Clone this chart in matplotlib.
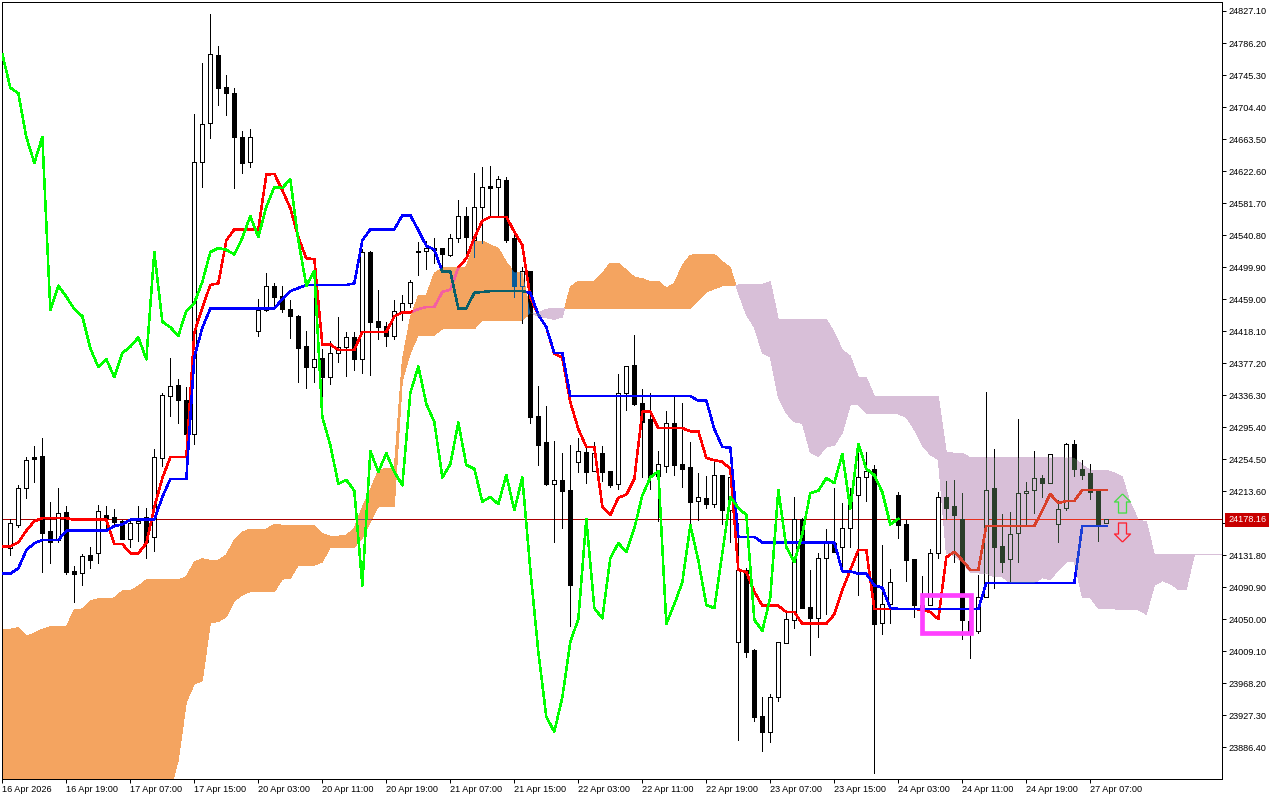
"""
Ichimoku chart on the US30 style H1 candles, MT5 look.
"""

import matplotlib
matplotlib.use('Agg')
import matplotlib.pyplot as plt
import matplotlib.transforms as mtransforms
import numpy as np
from matplotlib.patches import Rectangle
from matplotlib.path import Path

opens = [24142, 24141, 24170, 24217, 24257, 24258, 24163, 24151, 24187, 24111,
         24109, 24132, 24134, 24183, 24180, 24175, 24152, 24173, 24180, 24155,
         24256, 24335, 24349, 24330, 24286, 24634, 24684, 24771, 24730, 24722,
         24666, 24634, 24418, 24445, 24476, 24463, 24446, 24437, 24399, 24372,
         24384, 24359, 24390, 24398, 24410, 24382, 24519, 24431, 24425, 24412,
         24444, 24454, 24520, 24520, 24524, 24524, 24515, 24537, 24565, 24534,
         24577, 24603, 24602, 24611, 24537, 24476, 24495, 24309, 24276, 24223,
         24228, 24215, 24251, 24263, 24239, 24262, 24239, 24223, 24339, 24375,
         24326, 24306, 24233, 24245, 24301, 24248, 24244, 24201, 24205, 24197,
         24234, 24189, 24021, 24113, 24010, 23926, 23906, 23950, 24019, 24049,
         24178, 24065, 24051, 24128, 24147, 24142, 24166, 24208, 24231, 24242,
         24045, 24069, 24208, 24171, 24127, 24068, 24068, 24134, 24206, 24194,
         24178, 24047, 24035, 24078, 24217, 24143, 24127, 24160, 24211, 24215,
         24230, 24224, 24171, 24192, 24274, 24242, 24237, 24214, 24173]
highs = [24145, 24178, 24221, 24257, 24271, 24281, 24200, 24217, 24194, 24118,
         24133, 24142, 24196, 24194, 24191, 24177, 24177, 24194, 24192, 24267,
         24339, 24384, 24357, 24346, 24695, 24761, 24823, 24782, 24745, 24729,
         24674, 24676, 24459, 24492, 24479, 24476, 24458, 24439, 24418, 24479,
         24395, 24405, 24436, 24417, 24417, 24523, 24520, 24471, 24430, 24458,
         24464, 24483, 24532, 24533, 24537, 24524, 24542, 24586, 24577, 24620,
         24628, 24629, 24616, 24615, 24543, 24500, 24495, 24348, 24322, 24278,
         24262, 24272, 24281, 24270, 24276, 24271, 24239, 24363, 24373, 24413,
         24344, 24339, 24265, 24316, 24334, 24326, 24276, 24237, 24233, 24253,
         24234, 24231, 24173, 24115, 24012, 23950, 23954, 24021, 24059, 24206,
         24179, 24113, 24134, 24165, 24217, 24198, 24217, 24262, 24263, 24247,
         24145, 24114, 24212, 24177, 24127, 24105, 24139, 24212, 24226, 24228,
         24211, 24074, 24106, 24340, 24267, 24184, 24187, 24306, 24225, 24265,
         24234, 24261, 24202, 24275, 24279, 24253, 24248, 24215, 24178]
lows = [24110, 24132, 24168, 24205, 24225, 24110, 24122, 24148, 24108, 24072,
        24093, 24115, 24122, 24164, 24171, 24152, 24142, 24150, 24128, 24137,
        24246, 24309, 24301, 24269, 24274, 24602, 24665, 24707, 24694, 24601,
        24620, 24628, 24412, 24444, 24451, 24442, 24409, 24353, 24345, 24353,
        24334, 24350, 24378, 24361, 24368, 24364, 24362, 24408, 24399, 24408,
        24432, 24449, 24490, 24497, 24505, 24496, 24514, 24532, 24516, 24513,
        24531, 24564, 24566, 24532, 24462, 24428, 24300, 24247, 24221, 24148,
        24166, 24041, 24238, 24224, 24239, 24226, 24219, 24216, 24317, 24324,
        24231, 24216, 24175, 24238, 24234, 24219, 24170, 24177, 24192, 24193,
        24171, 24148, 23895, 24001, 23920, 23881, 23893, 23945, 24019, 24039,
        24064, 24004, 24027, 24056, 24136, 24118, 24142, 24081, 24201, 23853,
        24031, 24045, 24154, 24099, 24053, 24049, 24068, 24128, 24178, 24123,
        24024, 24000, 24032, 24078, 24090, 24110, 24096, 24123, 24171, 24185,
        24206, 24224, 24148, 24189, 24233, 24229, 24203, 24150, 24173]
closes = [24142, 24173, 24217, 24253, 24255, 24160, 24148, 24186, 24110, 24108,
          24131, 24125, 24188, 24179, 24174, 24152, 24173, 24175, 24148, 24257,
          24336, 24348, 24330, 24286, 24634, 24683, 24772, 24729, 24722, 24666,
          24633, 24666, 24445, 24476, 24462, 24446, 24437, 24396, 24372, 24382,
          24359, 24390, 24398, 24410, 24382, 24519, 24430, 24423, 24412, 24444,
          24454, 24481, 24519, 24524, 24522, 24516, 24537, 24565, 24538, 24577,
          24602, 24601, 24612, 24534, 24476, 24495, 24308, 24272, 24223, 24228,
          24214, 24093, 24265, 24238, 24262, 24238, 24221, 24339, 24373, 24325,
          24302, 24231, 24248, 24301, 24247, 24242, 24200, 24206, 24197, 24234,
          24189, 24231, 24113, 24008, 23925, 23906, 23950, 24021, 24050, 24178,
          24064, 24051, 24128, 24147, 24136, 24166, 24208, 24231, 24239, 24044,
          24069, 24097, 24170, 24125, 24068, 24064, 24134, 24206, 24192, 24183,
          24049, 24035, 24078, 24215, 24142, 24123, 24159, 24211, 24214, 24230,
          24224, 24261, 24191, 24274, 24242, 24234, 24212, 24171, 24178.16]

tenkan = [24143, 24143, 24148, 24163, 24175, 24179, 24179, 24179, 24179, 24177,
          24177, 24177, 24177, 24177, 24146, 24146, 24134, 24134, 24147, 24193,
          24230, 24257, 24257, 24257, 24416, 24448, 24477, 24479, 24534, 24548,
          24548, 24548, 24548, 24618, 24619, 24598, 24575, 24538, 24511, 24510,
          24401, 24401, 24394, 24394, 24394, 24417, 24417, 24417, 24417, 24437,
          24442, 24442, 24446, 24449, 24449, 24468, 24471, 24499, 24511, 24537,
          24559, 24564, 24564, 24564, 24545, 24528, 24461, 24439, 24423, 24389,
          24384, 24327, 24293, 24270, 24270, 24194, 24183, 24205, 24209, 24229,
          24315, 24315, 24294, 24294, 24294, 24294, 24290, 24290, 24256, 24253,
          24251, 24242, 24113, 24110, 24085, 24067, 24067, 24067, 24059, 24059,
          24044, 24044, 24044, 24044, 24056, 24087, 24113, 24138, 24138, 24063,
          24063, 24063, 24063, 24063, 24063, 24062, 24059, 24050, 24129, 24136,
          24125, 24113, 24113, 24169, 24169, 24169, 24169, 24169, 24169, 24169,
          24189, 24210, 24198, 24201, 24201, 24215, 24215, 24215, 24215]
kijun = [24108, 24108, 24115, 24138, 24147, 24151, 24151, 24151, 24163, 24163,
         24163, 24163, 24163, 24163, 24169, 24171, 24177, 24177, 24177, 24177,
         24206, 24229, 24229, 24229, 24385, 24422, 24447, 24447, 24447, 24447,
         24447, 24447, 24447, 24447, 24447, 24459, 24469, 24473, 24477, 24477,
         24477, 24477, 24477, 24477, 24479, 24534, 24548, 24548, 24548, 24548,
         24566, 24566, 24547, 24527, 24522, 24494, 24494, 24447, 24447, 24467,
         24468, 24469, 24469, 24469, 24469, 24469, 24467, 24439, 24423, 24390,
         24390, 24335, 24335, 24335, 24335, 24335, 24335, 24335, 24335, 24335,
         24335, 24335, 24335, 24335, 24335, 24335, 24335, 24329, 24329, 24293,
         24270, 24269, 24155, 24155, 24155, 24148, 24148, 24148, 24148, 24148,
         24148, 24148, 24148, 24148, 24148, 24111, 24111, 24108, 24108, 24093,
         24090, 24064, 24063, 24063, 24063, 24063, 24063, 24063, 24063, 24063,
         24063, 24063, 24063, 24096, 24096, 24096, 24096, 24096, 24096, 24096,
         24096, 24096, 24096, 24096, 24096, 24169, 24169, 24169, 24169]
chikou = [24772, 24729, 24722, 24666, 24633, 24666, 24445, 24476, 24462, 24446,
          24437, 24396, 24372, 24382, 24359, 24390, 24398, 24410, 24382, 24519,
          24430, 24423, 24412, 24444, 24454, 24481, 24519, 24524, 24522, 24516,
          24537, 24565, 24538, 24577, 24602, 24601, 24612, 24534, 24476, 24495,
          24308, 24272, 24223, 24228, 24214, 24093, 24265, 24238, 24262, 24238,
          24221, 24339, 24373, 24325, 24302, 24231, 24248, 24301, 24247, 24242,
          24200, 24206, 24197, 24234, 24189, 24231, 24113, 24008, 23925, 23906,
          23950, 24021, 24050, 24178, 24064, 24051, 24128, 24147, 24136, 24166,
          24208, 24231, 24239, 24044, 24069, 24097, 24170, 24125, 24068, 24064,
          24134, 24206, 24192, 24183, 24049, 24035, 24078, 24215, 24142, 24123,
          24159, 24211, 24214, 24230, 24224, 24261, 24191, 24274, 24242, 24234,
          24212, 24171, 24178.16]
senkou_a = [24036, 24037, 24039, 24028, 24032, 24037, 24040, 24040, 24040, 24062,
            24063, 24073, 24076, 24076, 24077, 24086, 24086, 24092, 24100, 24100,
            24100, 24100, 24100, 24104, 24123, 24127, 24125, 24125, 24132, 24151,
            24161, 24165, 24165, 24165, 24171, 24170, 24170, 24170, 24170, 24169,
            24159, 24156, 24156, 24157, 24166, 24193, 24215, 24240, 24243, 24243,
            24381, 24435, 24463, 24464, 24492, 24499, 24499, 24499, 24500, 24533,
            24533, 24528, 24524, 24506, 24493, 24493, 24441, 24437, 24435, 24433,
            24436, 24474, 24482, 24482, 24482, 24492, 24505, 24505, 24496, 24487,
            24485, 24481, 24482, 24473, 24479, 24502, 24515, 24516, 24516, 24516,
            24507, 24499, 24467, 24439, 24423, 24390, 24385, 24334, 24313, 24302,
            24300, 24263, 24258, 24270, 24272, 24288, 24324, 24324, 24313, 24313,
            24313, 24313, 24312, 24308, 24292, 24272, 24260, 24254, 24134, 24131,
            24122, 24110, 24109, 24108, 24104, 24104, 24096, 24096, 24096, 24096,
            24103, 24100, 24113, 24123, 24123, 24078, 24077, 24064, 24063, 24063,
            24062, 24062, 24062, 24056, 24093, 24099, 24095, 24088, 24088, 24132,
            24132, 24132, 24132, 24132]
senkou_b = [23800, 23800, 23800, 23800, 23800, 23800, 23800, 23800, 23800, 23800,
            23800, 23800, 23800, 23800, 23800, 23800, 23800, 23800, 23800, 23800,
            23800, 23831, 23870, 23944, 23967, 23971, 24045, 24047, 24053, 24073,
            24081, 24085, 24085, 24085, 24085, 24101, 24102, 24119, 24119, 24119,
            24123, 24142, 24142, 24142, 24142, 24154, 24174, 24194, 24194, 24194,
            24355, 24390, 24413, 24413, 24413, 24421, 24421, 24421, 24421, 24421,
            24432, 24432, 24432, 24432, 24432, 24432, 24441, 24441, 24446, 24447,
            24447, 24447, 24447, 24447, 24447, 24447, 24447, 24447, 24447, 24447,
            24447, 24447, 24447, 24447, 24447, 24447, 24447, 24458, 24468, 24472,
            24476, 24476, 24477, 24477, 24477, 24478, 24481, 24433, 24433, 24433,
            24433, 24433, 24433, 24433, 24416, 24394, 24386, 24359, 24359, 24335,
            24335, 24335, 24335, 24335, 24335, 24335, 24335, 24335, 24263, 24262,
            24262, 24256, 24256, 24256, 24256, 24256, 24256, 24256, 24256, 24256,
            24256, 24256, 24256, 24256, 24256, 24247, 24240, 24240, 24240, 24237,
            24232, 24198, 24177, 24174, 24133, 24133, 24133, 24133, 24133, 24133,
            24133, 24133, 24133, 24133]

last_price = 24178.16
price_ticks = [24827.10, 24786.20, 24745.30, 24704.40, 24663.50, 24622.60, 24581.70,
               24540.80, 24499.90, 24459.00, 24418.10, 24377.20, 24336.30, 24295.40,
               24254.50, 24213.60, 24172.70, 24131.80, 24090.90, 24050.00, 24009.10,
               23968.20, 23927.30, 23886.40]
time_tick_bars = [0, 8, 16, 24, 32, 40, 48, 56, 64, 72, 80, 88, 96, 104, 112, 120, 128, 136]
time_tick_labels = ['16 Apr 2026', '16 Apr 19:00', '17 Apr 07:00', '17 Apr 15:00',
                    '20 Apr 03:00', '20 Apr 11:00', '20 Apr 19:00', '21 Apr 07:00',
                    '21 Apr 15:00', '22 Apr 03:00', '22 Apr 11:00', '22 Apr 19:00',
                    '23 Apr 07:00', '23 Apr 15:00', '24 Apr 03:00', '24 Apr 11:00',
                    '24 Apr 19:00', '27 Apr 07:00']

# Marked box and the two arrows
box_bars = (115, 121.1)
box_prices = (24032, 24080.5)
arrow_bar = 140
arrow_up_price = 24198
arrow_down_price = 24161

PX = 0.72  # one pixel in points at dpi 100
LINE_W = 1.1
LABEL_SIZE = 6.6
ORANGE = '#F4A460'
THISTLE = '#D8BFD8'

plt.rcParams['font.family'] = ['Liberation Sans', 'DejaVu Sans']
plt.rcParams['font.size'] = LABEL_SIZE


def draw_candles(ax, wick, down, up, zorder, clip=None):
    """Wicks and bodies; the palette changes where a cloud sits behind them."""
    bars = np.arange(len(opens))
    o = np.array(opens, dtype=float)
    c = np.array(closes, dtype=float)
    bull = c >= o
    wicks = ax.vlines(bars, lows, highs, colors=wick, linewidth=PX, zorder=zorder,
                      antialiased=False)
    bodies = ax.bar(bars, np.abs(c - o), bottom=np.minimum(o, c), width=0.5,
                    color=[up if b else down for b in bull], edgecolor=wick,
                    linewidth=PX, zorder=zorder + 0.1, antialiased=False)
    if clip is not None:
        wicks.set_clip_path(clip, ax.transData)
        for body in bodies:
            body.set_clip_path(clip, ax.transData)


def draw_lines(ax, red, blue, zorder, clip=None):
    """Tenkan and kijun, thin and without smoothing like the terminal."""
    for values, color, z in ((tenkan, red, zorder), (kijun, blue, zorder + 0.1)):
        line, = ax.plot(np.arange(len(values)), values, color=color, linewidth=LINE_W,
                        zorder=z, antialiased=False, solid_joinstyle='round')
        if clip is not None:
            line.set_clip_path(clip, ax.transData)


def draw_last_price(ax, color, zorder, clip=None):
    line = ax.axhline(last_price, color=color, linewidth=PX, zorder=zorder)
    if clip is not None:
        line.set_clip_path(clip, ax.transData)


def main():
    fig = plt.figure(figsize=(12.8, 8.0), dpi=100, facecolor='white')
    ax = fig.add_axes([2 / 1280, 21 / 800, 1220 / 1280, 777 / 800])

    # Cloud
    cloud_x = np.arange(len(senkou_a))
    a = np.array(senkou_a, dtype=float)
    b = np.array(senkou_b, dtype=float)
    orange = ax.fill_between(cloud_x, a, b, where=a >= b, interpolate=True, color=ORANGE,
                             linewidth=0, zorder=1, antialiased=False)
    purple = ax.fill_between(cloud_x, a, b, where=a <= b, interpolate=True, color=THISTLE,
                             linewidth=0, zorder=1, antialiased=False)
    orange_path = Path.make_compound_path(*orange.get_paths())
    purple_path = Path.make_compound_path(*purple.get_paths())

    # Plain marks
    draw_last_price(ax, '#aa0000', 2)
    draw_candles(ax, 'black', 'black', 'white', 3)
    draw_lines(ax, '#ff0000', '#0000ff', 4)

    # The terminal mixes colours inside the cloud, so redraw there in the mixed ones
    draw_last_price(ax, '#8a4a70', 4.4, orange_path)
    draw_last_price(ax, '#e8301c', 4.4, purple_path)
    draw_candles(ax, '#0a5c9a', '#0a5c9a', ORANGE, 5, orange_path)
    draw_candles(ax, '#2a3f2a', '#2a3f2a', THISTLE, 5, purple_path)
    draw_lines(ax, '#f45fa0', '#0b5f6a', 6, orange_path)
    draw_lines(ax, '#d9402a', '#1d3fd6', 6, purple_path)

    # Chikou on top
    ax.plot(np.arange(len(chikou)), chikou, color='#00ff00', linewidth=LINE_W, zorder=7,
            antialiased=False)

    ax.add_patch(Rectangle((box_bars[0], box_prices[0]), box_bars[1] - box_bars[0],
                           box_prices[1] - box_prices[0], fill=False, edgecolor='#ff40ff',
                           linewidth=4.7 * PX, joinstyle='miter', zorder=8))

    up_arrow = Path([(0, 1), (0.84, 0.16), (0.42, 0.16), (0.42, -1), (-0.42, -1),
                     (-0.42, 0.16), (-0.84, 0.16), (0, 1)])
    down_arrow = Path([(0, -1), (0.84, -0.16), (0.42, -0.16), (0.42, 1), (-0.42, 1),
                       (-0.42, -0.16), (-0.84, -0.16), (0, -1)])
    ax.plot([arrow_bar], [arrow_up_price], marker=up_arrow, markersize=13.7,
            markerfacecolor='none', markeredgecolor='#44dd44', markeredgewidth=PX * 1.3, zorder=8)
    ax.plot([arrow_bar], [arrow_down_price], marker=down_arrow, markersize=13.7,
            markerfacecolor='none', markeredgecolor='#ff2030', markeredgewidth=PX * 1.3, zorder=8)

    # Axes
    ax.set_xlim(-0.04, 152.46)
    ax.set_ylim(23845.6, 24838.6)
    for spine in ax.spines.values():
        spine.set_linewidth(PX)
        spine.set_color('black')

    ax.yaxis.tick_right()
    ax.set_yticks(price_ticks)
    ax.set_yticklabels([f'{p:.2f}' for p in price_ticks])
    ax.tick_params(axis='y', length=2.9, width=PX, pad=2, labelsize=LABEL_SIZE, colors='black')

    ax.set_xticks(time_tick_bars)
    ax.set_xticklabels(time_tick_labels, ha='left')
    ax.tick_params(axis='x', length=2.9, width=PX, pad=1.2, labelsize=LABEL_SIZE, colors='black')

    # Red price tag over the scale
    tag_transform = mtransforms.blended_transform_factory(ax.transAxes, ax.transData)
    ax.text(1 + 6 / 1220, last_price, f'{last_price:.2f}', transform=tag_transform, color='white',
            fontsize=LABEL_SIZE, va='center_baseline', ha='left', clip_on=False, zorder=20,
            bbox=dict(boxstyle='square,pad=0.3', facecolor='#c80000', edgecolor='none'))

    fig.savefig('out.png', dpi=100)
    plt.close(fig)


if __name__ == "__main__":
    main()
